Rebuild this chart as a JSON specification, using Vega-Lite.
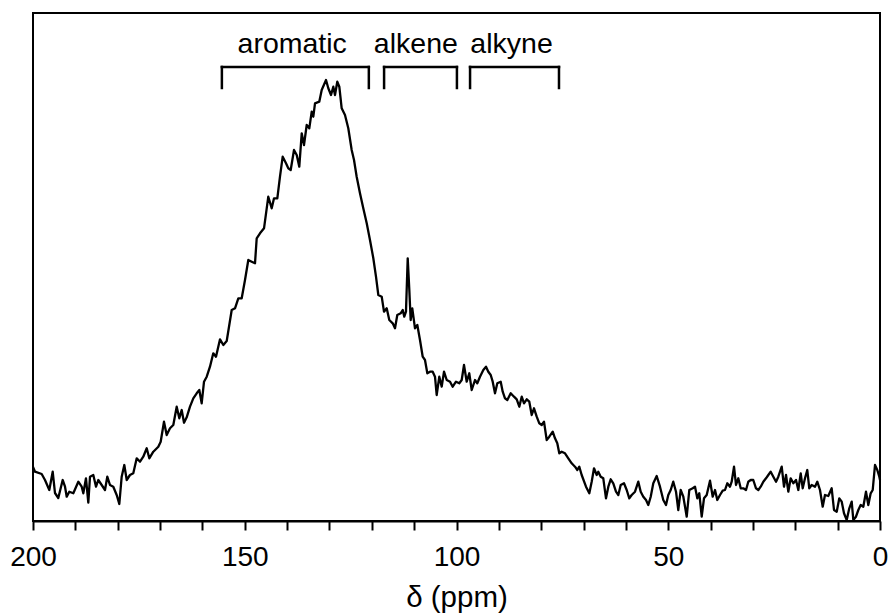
{
  "$schema": "https://vega.github.io/schema/vega-lite/v6.json",
  "width": 847,
  "height": 508,
  "autosize": {"type": "none"},
  "padding": {"left": 33, "top": 13, "right": 9, "bottom": 93},
  "background": "white",
  "config": {
    "font": "Liberation Sans",
    "view": {"stroke": "black", "strokeWidth": 2},
    "axis": {"grid": false, "domainColor": "black", "domainWidth": 2, "tickColor": "black", "tickWidth": 2, "tickSize": 9, "labelColor": "black", "labelFontSize": 28, "titleColor": "black", "titleFontSize": 29.5, "titleFontWeight": "normal"}
  },
  "datasets": {
    "spectrum": [
      {"ppm":200,"signal":54},{"ppm":199.53,"signal":49.3},{"ppm":197.95,"signal":47},{"ppm":197.17,"signal":41},{"ppm":196.15,"signal":31},{"ppm":195.35,"signal":49.3},{"ppm":194.81,"signal":28},{"ppm":194.03,"signal":23},{"ppm":192.99,"signal":41},{"ppm":192.44,"signal":34.3},{"ppm":192.04,"signal":24.3},{"ppm":191.43,"signal":29.3},{"ppm":190.48,"signal":27.7},{"ppm":189.3,"signal":39.3},{"ppm":188.5,"signal":34.3},{"ppm":188.12,"signal":27.7},{"ppm":187.49,"signal":42.7},{"ppm":186.94,"signal":18.3},{"ppm":186.54,"signal":44.3},{"ppm":185.76,"signal":46},{"ppm":185.12,"signal":34.3},{"ppm":184.58,"signal":41},{"ppm":183.78,"signal":36},{"ppm":183.0,"signal":31},{"ppm":182.46,"signal":44.3},{"ppm":181.82,"signal":36},{"ppm":181.04,"signal":34.3},{"ppm":180.24,"signal":26},{"ppm":179.62,"signal":17},{"ppm":179.06,"signal":44.3},{"ppm":178.44,"signal":56},{"ppm":177.87,"signal":41},{"ppm":177.1,"signal":46},{"ppm":176.32,"signal":47.7},{"ppm":175.51,"signal":62.7},{"ppm":174.73,"signal":59.3},{"ppm":173.96,"signal":64.3},{"ppm":173.15,"signal":72.7},{"ppm":172.54,"signal":62.7},{"ppm":171.59,"signal":69.3},{"ppm":170.41,"signal":74.3},{"ppm":169.85,"signal":79.3},{"ppm":169.07,"signal":99.3},{"ppm":168.43,"signal":86},{"ppm":167.65,"signal":92.7},{"ppm":166.87,"signal":96},{"ppm":166.07,"signal":114.3},{"ppm":165.45,"signal":102.7},{"ppm":164.89,"signal":111},{"ppm":164.34,"signal":98.3},{"ppm":163.71,"signal":103.7},{"ppm":162.93,"signal":114.3},{"ppm":162.15,"signal":122.7},{"ppm":161.35,"signal":127.7},{"ppm":160.73,"signal":131},{"ppm":160.17,"signal":117.7},{"ppm":159.62,"signal":139.3},{"ppm":158.98,"signal":144.3},{"ppm":158.21,"signal":154.3},{"ppm":157.43,"signal":167.7},{"ppm":156.79,"signal":164.3},{"ppm":155.84,"signal":181.7},{"ppm":155.06,"signal":176},{"ppm":154.26,"signal":180},{"ppm":153.08,"signal":211},{"ppm":152.3,"signal":212.7},{"ppm":151.52,"signal":222.7},{"ppm":150.72,"signal":222.7},{"ppm":149.94,"signal":241},{"ppm":149.16,"signal":261},{"ppm":148.36,"signal":259.3},{"ppm":147.58,"signal":257.7},{"ppm":147.18,"signal":282.7},{"ppm":146.4,"signal":287.7},{"ppm":145.45,"signal":292.7},{"ppm":144.44,"signal":324.3},{"ppm":143.64,"signal":312.7},{"ppm":143.09,"signal":322.7},{"ppm":142.31,"signal":322.7},{"ppm":141.68,"signal":344.3},{"ppm":141.04,"signal":364.3},{"ppm":140.26,"signal":357.7},{"ppm":139.72,"signal":352.7},{"ppm":139.15,"signal":351},{"ppm":138.37,"signal":371},{"ppm":137.73,"signal":366},{"ppm":137.12,"signal":354.3},{"ppm":136.55,"signal":387.7},{"ppm":136.01,"signal":376},{"ppm":135.37,"signal":396},{"ppm":134.76,"signal":392.7},{"ppm":134.19,"signal":409.3},{"ppm":133.81,"signal":404.3},{"ppm":133.41,"signal":417.7},{"ppm":132.4,"signal":419.3},{"ppm":131.83,"signal":431},{"ppm":130.81,"signal":441},{"ppm":130.27,"signal":432.7},{"ppm":129.63,"signal":426},{"ppm":129.09,"signal":434.3},{"ppm":128.69,"signal":426},{"ppm":128.15,"signal":439.3},{"ppm":127.67,"signal":434.3},{"ppm":127.11,"signal":412.7},{"ppm":126.33,"signal":406},{"ppm":125.55,"signal":392.7},{"ppm":124.75,"signal":371},{"ppm":124.2,"signal":361},{"ppm":123.57,"signal":344.3},{"ppm":122.79,"signal":327.7},{"ppm":122.01,"signal":312.7},{"ppm":121.2,"signal":297.7},{"ppm":120.43,"signal":281},{"ppm":119.65,"signal":263},{"ppm":119.01,"signal":244.3},{"ppm":118.46,"signal":226},{"ppm":117.66,"signal":224.3},{"ppm":117.12,"signal":209.3},{"ppm":116.48,"signal":212.7},{"ppm":115.87,"signal":201},{"ppm":115.06,"signal":197.7},{"ppm":114.52,"signal":192.7},{"ppm":113.98,"signal":206},{"ppm":113.18,"signal":207.7},{"ppm":112.7,"signal":211},{"ppm":112.33,"signal":204.3},{"ppm":111.93,"signal":209.3},{"ppm":111.52,"signal":262.7},{"ppm":111.14,"signal":231},{"ppm":110.82,"signal":201},{"ppm":110.44,"signal":212.7},{"ppm":109.8,"signal":192.7},{"ppm":109.25,"signal":196},{"ppm":108.62,"signal":181},{"ppm":107.98,"signal":164.3},{"ppm":107.44,"signal":161},{"ppm":106.89,"signal":147.7},{"ppm":106.26,"signal":149.3},{"ppm":105.62,"signal":149.3},{"ppm":105.08,"signal":144.3},{"ppm":104.68,"signal":126},{"ppm":104.06,"signal":144.3},{"ppm":103.49,"signal":134.3},{"ppm":102.95,"signal":149.3},{"ppm":102.31,"signal":141},{"ppm":101.53,"signal":139.3},{"ppm":100.9,"signal":134.3},{"ppm":100.12,"signal":139.3},{"ppm":99.34,"signal":137.7},{"ppm":98.77,"signal":141},{"ppm":98.23,"signal":156},{"ppm":97.59,"signal":139.3},{"ppm":96.98,"signal":147.7},{"ppm":96.41,"signal":131},{"ppm":95.63,"signal":141},{"ppm":95.09,"signal":137.7},{"ppm":94.45,"signal":144.3},{"ppm":93.67,"signal":151},{"ppm":93.03,"signal":154.3},{"ppm":92.49,"signal":149.3},{"ppm":91.92,"signal":146},{"ppm":91.45,"signal":139.3},{"ppm":90.91,"signal":127.7},{"ppm":90.36,"signal":137.7},{"ppm":89.56,"signal":139.3},{"ppm":89.09,"signal":129.3},{"ppm":88.55,"signal":122.7},{"ppm":88.0,"signal":121},{"ppm":87.2,"signal":127.7},{"ppm":86.42,"signal":124.3},{"ppm":85.78,"signal":121.7},{"ppm":85.17,"signal":114.3},{"ppm":84.6,"signal":124.3},{"ppm":84.06,"signal":117.7},{"ppm":83.42,"signal":121.7},{"ppm":82.81,"signal":119.3},{"ppm":82.24,"signal":106},{"ppm":81.7,"signal":112.7},{"ppm":81.06,"signal":104.3},{"ppm":80.45,"signal":97.7},{"ppm":79.88,"signal":96},{"ppm":79.34,"signal":99.3},{"ppm":78.7,"signal":81},{"ppm":78.09,"signal":84.3},{"ppm":77.28,"signal":89.3},{"ppm":76.74,"signal":82.7},{"ppm":76.2,"signal":77.7},{"ppm":75.73,"signal":67.7},{"ppm":75.16,"signal":69.3},{"ppm":74.38,"signal":67.7},{"ppm":73.6,"signal":62.7},{"ppm":72.8,"signal":57.7},{"ppm":72.02,"signal":54.3},{"ppm":71.47,"signal":51},{"ppm":71.0,"signal":54.3},{"ppm":70.44,"signal":46},{"ppm":69.42,"signal":34.3},{"ppm":68.64,"signal":27.7},{"ppm":68.08,"signal":39.3},{"ppm":67.53,"signal":52.7},{"ppm":66.89,"signal":46},{"ppm":66.52,"signal":49.3},{"ppm":65.95,"signal":44.3},{"ppm":65.34,"signal":42.7},{"ppm":64.7,"signal":22.7},{"ppm":64.15,"signal":34.3},{"ppm":63.59,"signal":41.7},{"ppm":62.98,"signal":37.7},{"ppm":62.34,"signal":29.3},{"ppm":61.79,"signal":26},{"ppm":61.23,"signal":36},{"ppm":60.45,"signal":37.7},{"ppm":59.81,"signal":31},{"ppm":59.2,"signal":22.7},{"ppm":58.63,"signal":26},{"ppm":57.85,"signal":29.3},{"ppm":57.07,"signal":39.3},{"ppm":56.5,"signal":29.3},{"ppm":55.89,"signal":24.3},{"ppm":55.25,"signal":21},{"ppm":54.71,"signal":16},{"ppm":54.14,"signal":24.3},{"ppm":53.53,"signal":37.7},{"ppm":52.73,"signal":45},{"ppm":51.95,"signal":34.3},{"ppm":51.17,"signal":21},{"ppm":50.53,"signal":16},{"ppm":49.99,"signal":26},{"ppm":49.42,"signal":31},{"ppm":48.81,"signal":39.3},{"ppm":48.17,"signal":29.3},{"ppm":47.63,"signal":11},{"ppm":47.06,"signal":31},{"ppm":46.44,"signal":24.3},{"ppm":45.64,"signal":4.3},{"ppm":45.03,"signal":31},{"ppm":44.22,"signal":32.7},{"ppm":43.68,"signal":34.3},{"ppm":43.14,"signal":22.7},{"ppm":42.67,"signal":27.7},{"ppm":42.1,"signal":4.3},{"ppm":41.56,"signal":22.7},{"ppm":40.92,"signal":26},{"ppm":40.14,"signal":40.3},{"ppm":39.5,"signal":24.3},{"ppm":38.96,"signal":31},{"ppm":38.42,"signal":21},{"ppm":37.78,"signal":26},{"ppm":37.14,"signal":30.3},{"ppm":36.6,"signal":31},{"ppm":36.06,"signal":37.7},{"ppm":35.42,"signal":34.3},{"ppm":35.02,"signal":39.3},{"ppm":34.47,"signal":54.3},{"ppm":34.0,"signal":36},{"ppm":33.46,"signal":42.7},{"ppm":32.89,"signal":32.7},{"ppm":32.28,"signal":32.7},{"ppm":31.64,"signal":31},{"ppm":31.1,"signal":39.3},{"ppm":30.53,"signal":41},{"ppm":29.92,"signal":41},{"ppm":29.28,"signal":32.7},{"ppm":28.73,"signal":31},{"ppm":28.17,"signal":34.3},{"ppm":27.55,"signal":39.3},{"ppm":26.92,"signal":42.7},{"ppm":26.37,"signal":46},{"ppm":25.81,"signal":49.3},{"ppm":25.19,"signal":44.3},{"ppm":24.55,"signal":39.3},{"ppm":24.01,"signal":44.3},{"ppm":23.21,"signal":54.3},{"ppm":22.67,"signal":34.3},{"ppm":22.19,"signal":46},{"ppm":21.65,"signal":29.3},{"ppm":21.09,"signal":42.7},{"ppm":20.47,"signal":37.7},{"ppm":19.83,"signal":41},{"ppm":19.29,"signal":31},{"ppm":18.72,"signal":47.7},{"ppm":18.25,"signal":32.7},{"ppm":17.71,"signal":42.7},{"ppm":17.17,"signal":51},{"ppm":16.7,"signal":32.7},{"ppm":16.13,"signal":36},{"ppm":15.35,"signal":34.3},{"ppm":14.81,"signal":39.3},{"ppm":14.17,"signal":31},{"ppm":13.53,"signal":14.3},{"ppm":12.99,"signal":26},{"ppm":12.21,"signal":25},{"ppm":11.41,"signal":32.7},{"ppm":10.86,"signal":11},{"ppm":10.22,"signal":9.3},{"ppm":9.61,"signal":22.7},{"ppm":9.04,"signal":19.3},{"ppm":8.5,"signal":7.7},{"ppm":7.86,"signal":1},{"ppm":7.25,"signal":12.7},{"ppm":6.68,"signal":19.3},{"ppm":6.3,"signal":1},{"ppm":5.67,"signal":4.3},{"ppm":5.12,"signal":11},{"ppm":4.56,"signal":16},{"ppm":3.94,"signal":14.3},{"ppm":3.31,"signal":29.3},{"ppm":2.76,"signal":16},{"ppm":2.2,"signal":27.7},{"ppm":1.72,"signal":31},{"ppm":1.18,"signal":56},{"ppm":0.64,"signal":51},{"ppm":0.16,"signal":44.3},{"ppm":0,"signal":41}
    ],
    "regions": [
      {"label": "aromatic", "from": 155.4, "to": 120.7, "mid": 138.8},
      {"label": "alkene", "from": 117.1, "to": 99.9, "mid": 109.6},
      {"label": "alkyne", "from": 96.8, "to": 75.8, "mid": 87.0}
    ]
  },
  "layer": [
    {
      "data": {"name": "spectrum"},
      "mark": {"type": "line", "color": "black", "strokeWidth": 2.3, "interpolate": "linear", "strokeJoin": "round"},
      "encoding": {
        "x": {"field": "ppm", "type": "quantitative", "scale": {"domain": [0, 200], "reverse": true, "nice": false, "zero": false},
          "axis": {"title": "δ (ppm)", "values": [0,10,20,30,40,50,60,70,80,90,100,110,120,130,140,150,160,170,180,190,200], "labelExpr": "datum.value % 50 === 0 ? datum.label : ''", "labelOverlap": false, "labelPadding": 13, "labelFlush": false, "titleBaseline": "alphabetic", "titleY": 85}},
        "y": {"field": "signal", "type": "quantitative", "scale": {"domain": [0, 508], "nice": false, "zero": false}, "axis": null}
      }
    },
    {
      "data": {"name": "regions"},
      "mark": {"type": "rule", "color": "black", "strokeWidth": 2.5, "strokeCap": "square"},
      "encoding": {
        "x": {"field": "from", "type": "quantitative"},
        "x2": {"field": "to"},
        "y": {"datum": 454}
      }
    },
    {
      "data": {"name": "regions"},
      "mark": {"type": "rule", "color": "black", "strokeWidth": 2.5, "strokeCap": "square"},
      "encoding": {
        "x": {"field": "from", "type": "quantitative"},
        "y": {"datum": 454},
        "y2": {"datum": 433}
      }
    },
    {
      "data": {"name": "regions"},
      "mark": {"type": "rule", "color": "black", "strokeWidth": 2.5, "strokeCap": "square"},
      "encoding": {
        "x": {"field": "to", "type": "quantitative"},
        "y": {"datum": 454},
        "y2": {"datum": 433}
      }
    },
    {
      "data": {"name": "regions"},
      "mark": {"type": "text", "color": "black", "fontSize": 28.5, "baseline": "alphabetic", "align": "center"},
      "encoding": {
        "x": {"field": "mid", "type": "quantitative"},
        "y": {"datum": 468},
        "text": {"field": "label"}
      }
    }
  ]
}
